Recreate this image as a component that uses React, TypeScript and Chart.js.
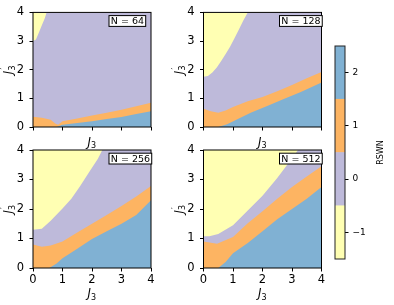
import React, { useEffect, useRef } from 'react';
import { Chart, registerables } from 'chart.js';
Chart.register(...registerables);

// ---- data (upper edge of each coloured region, [J3, J3'] pairs) ----
const panelLabels = ['N = 64', 'N = 128', 'N = 256', 'N = 512'];
const axisTicks = [0, 1, 2, 3, 4];
const colorbarTicks = [-1, 0, 1, 2];
const colorbarLabel = 'RSWN';

const n64Blue = [[0, 0], [0.8, 0], [1.0, 0.08], [1.5, 0.14], [2, 0.2], [2.5, 0.28], [3, 0.35], [3.5, 0.45], [4, 0.55]];
const n64Orange = [[0, 0.36], [0.3, 0.32], [0.6, 0.25], [0.75, 0.12], [0.85, 0.08], [1.0, 0.2], [1.5, 0.3], [2, 0.4], [2.5, 0.5], [3, 0.6], [3.5, 0.72], [4, 0.85]];
const n64Purple = [[0, 3.0], [0.1, 3.05], [0.2, 3.3], [0.3, 3.55], [0.4, 3.8], [0.46, 4], [4, 4]];

const n128Blue = [[0, 0], [0.5, 0], [0.8, 0.1], [1.2, 0.3], [1.6, 0.5], [2.2, 0.75], [2.7, 0.97], [3.3, 1.22], [4, 1.55]];
const n128Orange = [[0, 0.64], [0.25, 0.55], [0.5, 0.5], [0.75, 0.58], [1.0, 0.7], [1.5, 0.9], [2, 1.05], [2.5, 1.25], [3, 1.47], [3.5, 1.7], [4, 1.92]];
const n128Purple = [[0, 1.75], [0.15, 1.78], [0.3, 1.9], [0.45, 2.08], [0.6, 2.3], [0.75, 2.55], [0.9, 2.8], [1.05, 3.1], [1.2, 3.4], [1.35, 3.72], [1.5, 4], [4, 4]];

const n256Blue = [[0, 0], [0.55, 0], [0.8, 0.15], [1.0, 0.33], [1.5, 0.65], [2.0, 0.98], [2.5, 1.25], [3.0, 1.5], [3.5, 1.8], [4, 2.3]];
const n256Orange = [[0, 0.8], [0.3, 0.72], [0.6, 0.76], [1.0, 0.9], [1.5, 1.2], [2.0, 1.5], [2.5, 1.8], [3.0, 2.1], [3.5, 2.42], [4, 2.78]];
const n256Purple = [[0, 1.3], [0.3, 1.33], [0.6, 1.6], [1.0, 2.02], [1.3, 2.35], [1.6, 2.78], [1.9, 3.25], [2.2, 3.7], [2.35, 4], [4, 4]];

const n512Blue = [[0, 0], [0.5, 0], [0.75, 0.2], [1.0, 0.5], [1.5, 0.85], [2.0, 1.25], [2.5, 1.65], [3.0, 2.0], [3.5, 2.35], [4, 2.75]];
const n512Orange = [[0, 0.9], [0.46, 0.82], [1.0, 1.05], [1.5, 1.52], [2.0, 1.92], [2.5, 2.35], [3.0, 2.75], [3.5, 3.1], [4, 3.45]];
const n512Purple = [[0, 1.08], [0.2, 1.08], [0.5, 1.15], [1.0, 1.45], [1.5, 1.95], [2.0, 2.45], [2.5, 3.05], [2.8, 3.45], [3.1, 3.85], [3.2, 4], [4, 4]];

const topEdge = [[0, 4], [4, 4]];

// ---- styling ----
const YELLOW = '#ffffb3';
const PURPLE = '#bebada';
const ORANGE = '#fdb462';
const BLUE = '#80b1d3';
const colorbarColors = [YELLOW, PURPLE, ORANGE, BLUE];
const FONT = '"DejaVu Sans", sans-serif';
const W = 394, H = 305;

const panels = [
  { label: panelLabels[0], blue: n64Blue, orange: n64Orange, purple: n64Purple, area: { l: 33, t: 9.5, r: 151, b: 127 }, showX: false },
  { label: panelLabels[1], blue: n128Blue, orange: n128Orange, purple: n128Purple, area: { l: 203.5, t: 9.5, r: 321.5, b: 127 }, showX: false },
  { label: panelLabels[2], blue: n256Blue, orange: n256Orange, purple: n256Purple, area: { l: 33, t: 150, r: 151, b: 268 }, showX: true },
  { label: panelLabels[3], blue: n512Blue, orange: n512Orange, purple: n512Purple, area: { l: 203.5, t: 150, r: 321.5, b: 268 }, showX: true },
];

const toPts = (arr: number[][]) => arr.map(([x, y]) => ({ x, y }));

function drawJ(ctx: CanvasRenderingContext2D, x: number, y: number, rot: number, prime: boolean) {
  ctx.save();
  ctx.translate(x, y);
  ctx.rotate(rot);
  ctx.fillStyle = '#000';
  ctx.textAlign = 'left';
  ctx.textBaseline = 'alphabetic';
  const main = 'italic 11.5px ' + FONT;
  const sub = '8px ' + FONT;
  ctx.font = main;
  const wJ = ctx.measureText('J').width;
  ctx.font = sub;
  const wS = ctx.measureText('3').width;
  const total = wJ + wS + 0.5;
  const start = -total / 2;
  ctx.font = main;
  ctx.fillText('J', start, 0);
  ctx.font = sub;
  ctx.fillText('3', start + wJ + 0.2, 2.8);
  if (prime) ctx.fillText('\u2032', start + wJ + 1.2, -5);
  ctx.restore();
}

const panelDeco = {
  id: 'panelDeco',
  afterDraw(chart: any, _args: any, opts: any) {
    const { ctx, chartArea: a } = chart;
    ctx.save();
    ctx.strokeStyle = '#000';
    ctx.lineWidth = 1;
    ctx.strokeRect(a.left, a.top, a.right - a.left, a.bottom - a.top);
    // N label box
    ctx.font = '9.5px ' + FONT;
    const tw = ctx.measureText(opts.label).width;
    const bx = a.left + 76, by = a.top + 3.2, bh = 10.8, bw = tw + 3.5;
    ctx.fillStyle = '#fff';
    ctx.fillRect(bx, by, bw, bh);
    ctx.strokeRect(bx, by, bw, bh);
    ctx.fillStyle = '#000';
    ctx.textBaseline = 'middle';
    ctx.textAlign = 'left';
    ctx.fillText(opts.label, bx + 1.8, by + bh / 2 + 0.5);
    // axis titles
    drawJ(ctx, (a.left + a.right) / 2, a.bottom + opts.xTitleOffset, 0, false);
    drawJ(ctx, a.left - 21, (a.top + a.bottom) / 2, -Math.PI / 2, true);
    ctx.restore();
  },
};

const colorbarDeco = {
  id: 'colorbarDeco',
  afterDraw(chart: any) {
    const { ctx, chartArea: a } = chart;
    ctx.save();
    ctx.strokeStyle = '#222';
    ctx.lineWidth = 1;
    ctx.strokeRect(a.left, a.top, a.right - a.left, a.bottom - a.top);
    ctx.translate(382.5, (a.top + a.bottom) / 2);
    ctx.rotate(-Math.PI / 2);
    ctx.font = '8px ' + FONT;
    ctx.fillStyle = '#000';
    ctx.textAlign = 'center';
    ctx.textBaseline = 'alphabetic';
    ctx.fillText(colorbarLabel, 0, 0);
    ctx.restore();
  },
};

const AXW = 32; // fixed y-axis width
const AXH = 30; // fixed x-axis height

function panelConfig(p: any): any {
  const a = p.area;
  const ds = [
    { data: toPts(p.blue), backgroundColor: BLUE, order: 1 },
    { data: toPts(p.orange), backgroundColor: ORANGE, order: 2 },
    { data: toPts(p.purple), backgroundColor: PURPLE, order: 3 },
    { data: toPts(topEdge), backgroundColor: YELLOW, order: 4 },
  ].map((d) => ({ ...d, fill: 'origin', borderWidth: 0, borderColor: 'rgba(0,0,0,0)', pointRadius: 0, tension: 0 }));
  return {
    type: 'line',
    data: { datasets: ds },
    options: {
      responsive: false,
      animation: false,
      devicePixelRatio: 1,
      events: [],
      layout: { padding: { left: a.l - AXW, top: a.t, right: W - a.r, bottom: H - a.b - AXH } },
      plugins: {
        legend: { display: false },
        tooltip: { enabled: false },
        panelDeco: { label: p.label, xTitleOffset: p.showX ? 29 : 18.5 },
      },
      scales: {
        x: {
          type: 'linear',
          min: 0,
          max: 4,
          afterBuildTicks: (s: any) => { s.ticks = axisTicks.map((v) => ({ value: v })); },
          afterFit: (s: any) => { s.height = AXH; },
          grid: { drawOnChartArea: false, drawTicks: true, tickLength: 3.5, color: '#000', lineWidth: 1 },
          border: { display: false },
          ticks: { display: p.showX, color: '#000', font: { family: FONT, size: 11.5 }, padding: 1.5, maxRotation: 0, autoSkip: false },
        },
        y: {
          type: 'linear',
          min: 0,
          max: 4,
          afterBuildTicks: (s: any) => { s.ticks = axisTicks.map((v) => ({ value: v })); },
          afterFit: (s: any) => { s.width = AXW; },
          grid: { drawOnChartArea: false, drawTicks: true, tickLength: 3.5, color: '#000', lineWidth: 1 },
          border: { display: false },
          ticks: { color: '#000', font: { family: FONT, size: 11.5 }, padding: 5.5, autoSkip: false },
        },
      },
    },
    plugins: [panelDeco],
  };
}

function colorbarConfig(): any {
  const cb = { l: 335, t: 46, r: 345, b: 259 };
  return {
    type: 'bar',
    data: {
      labels: [''],
      datasets: colorbarTicks.map((v, i) => ({
        data: [[v - 0.5, v + 0.5]],
        backgroundColor: colorbarColors[i],
        borderWidth: 0,
        barPercentage: 1,
        categoryPercentage: 1,
        grouped: false,
      })),
    },
    options: {
      responsive: false,
      animation: false,
      devicePixelRatio: 1,
      events: [],
      layout: { padding: { left: cb.l, top: cb.t, right: W - cb.r - AXW, bottom: H - cb.b } },
      plugins: { legend: { display: false }, tooltip: { enabled: false } },
      scales: {
        x: { display: false },
        y: {
          position: 'right',
          min: -1.5,
          max: 2.5,
          afterBuildTicks: (s: any) => { s.ticks = colorbarTicks.map((v) => ({ value: v })); },
          afterFit: (s: any) => { s.width = AXW; },
          grid: { drawOnChartArea: false, drawTicks: true, tickLength: 3.5, color: '#000', lineWidth: 1 },
          border: { display: false },
          ticks: {
            color: '#000',
            font: { family: FONT, size: 9 },
            padding: 4,
            callback: (v: any) => (v < 0 ? '\u2212' + Math.abs(v) : String(v)),
          },
        },
      },
    },
    plugins: [colorbarDeco],
  };
}

export default function App() {
  const refs = [useRef<HTMLCanvasElement>(null), useRef<HTMLCanvasElement>(null), useRef<HTMLCanvasElement>(null), useRef<HTMLCanvasElement>(null), useRef<HTMLCanvasElement>(null)];
  useEffect(() => {
    document.body.style.margin = '0';
    const charts: Chart[] = [];
    panels.forEach((p, i) => {
      charts.push(new Chart(refs[i].current as HTMLCanvasElement, panelConfig(p)));
    });
    charts.push(new Chart(refs[4].current as HTMLCanvasElement, colorbarConfig()));
    return () => charts.forEach((c) => c.destroy());
  }, []);
  const style: React.CSSProperties = { position: 'absolute', left: 0, top: 0, width: W, height: H };
  return (
    <div style={{ position: 'relative', width: W, height: H, background: '#fff' }}>
      {refs.map((r, i) => (
        <canvas key={i} ref={r} width={W} height={H} style={style} />
      ))}
    </div>
  );
}
